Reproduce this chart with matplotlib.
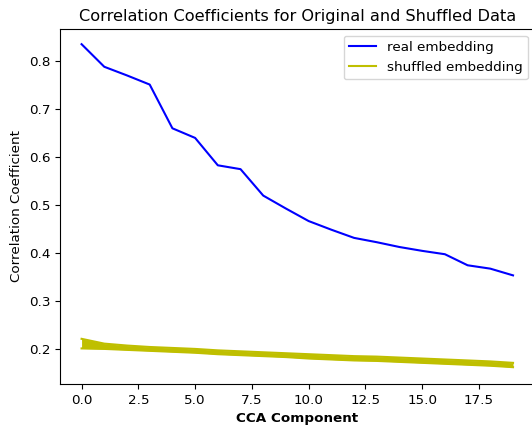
import matplotlib
matplotlib.use("Agg")
import matplotlib.pyplot as plt

componentes = list(range(20))
real = [0.835, 0.788, 0.770, 0.751, 0.660, 0.640, 0.583, 0.575, 0.520, 0.493,
        0.467, 0.449, 0.432, 0.423, 0.413, 0.405, 0.398, 0.375, 0.368, 0.354]
# faixa dos embeddings embaralhados (limite superior e inferior)
shuf_sup = [0.222, 0.212, 0.208, 0.205, 0.203, 0.201, 0.198, 0.196, 0.194, 0.192,
            0.190, 0.188, 0.186, 0.185, 0.183, 0.181, 0.179, 0.177, 0.175, 0.172]
shuf_inf = [0.202, 0.201, 0.199, 0.197, 0.195, 0.193, 0.190, 0.188, 0.186, 0.184,
            0.181, 0.179, 0.177, 0.176, 0.174, 0.172, 0.170, 0.168, 0.166, 0.163]

plt.rcParams['font.size'] = 9.7

fig = plt.figure(figsize=(5.32, 4.29), dpi=100)
ax = fig.add_axes([60 / 532, 45 / 429, 474.6 / 532, 355 / 429])

ax.plot(componentes, real, color='b', label='real embedding')
ax.fill_between(componentes, shuf_inf, shuf_sup, color='y', lw=0)
ax.plot(componentes, shuf_sup, color='y', label='shuffled embedding')
ax.plot(componentes, shuf_inf, color='y')

ax.set_xlim(-0.95, 19.95)
ax.set_ylim(0.128, 0.8666)
ax.set_xlabel('CCA Component', fontweight='bold')
ax.set_ylabel('Correlation Coefficient')
ax.set_title('Correlation Coefficients for Original and Shuffled Data', fontsize=11.6)
ax.legend(loc='upper right')

fig.savefig('out.png', dpi=100)
